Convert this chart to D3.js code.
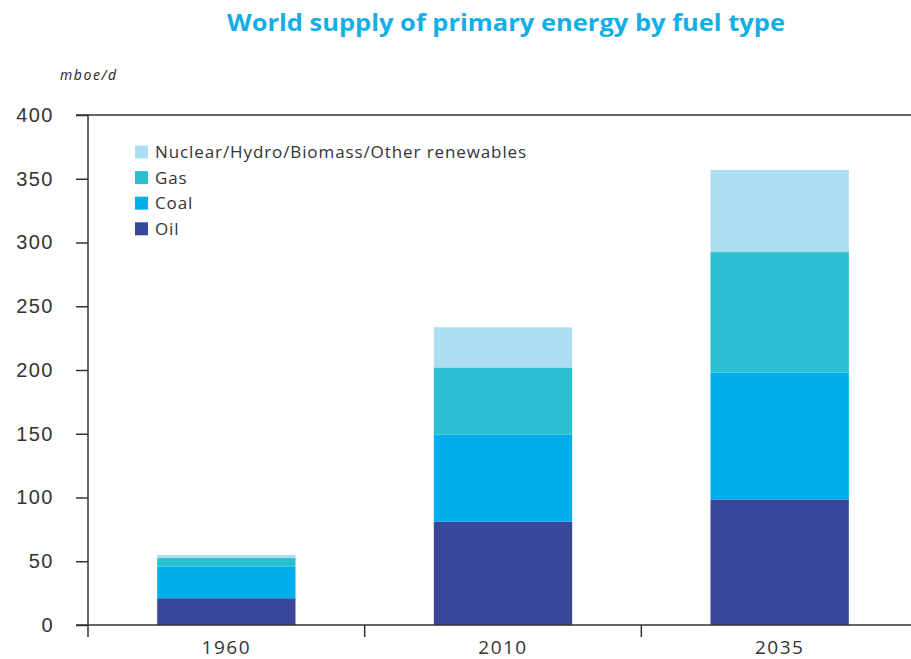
<!DOCTYPE html>
<html>
<head>
<meta charset="utf-8">
<script src="https://cdn.jsdelivr.net/npm/d3@7"></script>
<style>
  body { margin: 0; background: #fff; }
  svg { display: block; font-family: "Open Sans", "DejaVu Sans", sans-serif; }
</style>
</head>
<body>
<svg id="chart" width="911" height="659"></svg>
<script>
// --- dati ---
const years = ["1960", "2010", "2035"];
const oil = [21, 81, 98.5];
const coal = [25, 68.5, 99.5];
const gas = [6.5, 52.5, 94.5];
const other = [2.5, 31.5, 64.5];
const yTicks = [0, 50, 100, 150, 200, 250, 300, 350, 400];

const seriesNames = ["Oil", "Coal", "Gas", "Nuclear/Hydro/Biomass/Other renewables"];
const seriesColors = ["#38479a", "#00aeec", "#2bbfd3", "#abdef0"];

const rows = years.map((y, i) => ({
  year: y,
  "Oil": oil[i], "Coal": coal[i], "Gas": gas[i],
  "Nuclear/Hydro/Biomass/Other renewables": other[i]
}));

const svg = d3.select("#chart");
const mLeft = 88, mRight = 918, mTop = 115, mBottom = 625;

const x = d3.scaleBand().domain(years).range([mLeft, mRight]).paddingInner(0.5).paddingOuter(0.25);
const y = d3.scaleLinear().domain([0, 400]).range([mBottom, mTop]);

// titolo
svg.append("text")
  .attr("x", 506).attr("y", 31)
  .attr("text-anchor", "middle")
  .attr("fill", "#12aee6")
  .style("font-size", "23px").style("font-weight", "bold")
  .attr("textLength", 558).attr("lengthAdjust", "spacingAndGlyphs")
  .text("World supply of primary energy by fuel type");

// unità
svg.append("text")
  .attr("x", 60).attr("y", 80)
  .attr("fill", "#222")
  .style("font-size", "14px").style("font-style", "italic")
  .attr("textLength", 56)
  .text("mboe/d");

// barre impilate
const stacked = d3.stack().keys(seriesNames)(rows);
svg.append("g").selectAll("g")
  .data(stacked).enter().append("g")
  .attr("fill", (d, i) => seriesColors[i])
  .selectAll("rect")
  .data(d => d).enter().append("rect")
  .attr("x", d => x(d.data.year))
  .attr("width", x.bandwidth())
  .attr("y", d => y(d[1]))
  .attr("height", d => y(d[0]) - y(d[1]));

// asse Y
const yAxis = svg.append("g")
  .attr("transform", `translate(${mLeft},0)`)
  .call(d3.axisLeft(y).tickValues(yTicks).tickSize(12).tickPadding(22));
yAxis.select(".domain").remove();
yAxis.selectAll("line").attr("stroke", "#333").attr("stroke-width", 1.5);
yAxis.selectAll("text").attr("fill", "#333")
  .style("font-size", "20px").style("letter-spacing", "1.5px");

// linea verticale asse Y (scende sotto lo zero)
svg.append("line")
  .attr("x1", mLeft).attr("x2", mLeft)
  .attr("y1", mTop).attr("y2", mBottom + 12)
  .attr("stroke", "#333").attr("stroke-width", 1.5);

// linea superiore a 400
svg.append("line")
  .attr("x1", mLeft - 12).attr("x2", 911)
  .attr("y1", y(400)).attr("y2", y(400))
  .attr("stroke", "#333").attr("stroke-width", 1.5);

// asse X
svg.append("line")
  .attr("x1", mLeft - 12).attr("x2", 911)
  .attr("y1", mBottom).attr("y2", mBottom)
  .attr("stroke", "#333").attr("stroke-width", 1.5);

const step = x.step();
[1, 2].forEach(k => {
  svg.append("line")
    .attr("x1", mLeft + k * step).attr("x2", mLeft + k * step)
    .attr("y1", mBottom).attr("y2", mBottom + 12)
    .attr("stroke", "#333").attr("stroke-width", 1.5);
});

svg.append("g").selectAll("text")
  .data(years).enter().append("text")
  .attr("x", d => x(d) + x.bandwidth() / 2)
  .attr("y", 654)
  .attr("text-anchor", "middle")
  .attr("fill", "#333")
  .style("font-size", "19px").style("letter-spacing", "1.5px")
  .text(d => d);

// legenda
const legendOrder = [3, 2, 1, 0];
const legend = svg.append("g").selectAll("g")
  .data(legendOrder).enter().append("g")
  .attr("transform", (d, i) => `translate(135,${152 + i * 25.6})`);
legend.append("rect")
  .attr("x", 0).attr("y", -6.5).attr("width", 13).attr("height", 13)
  .attr("fill", d => seriesColors[d]);
legend.append("text")
  .attr("x", 20).attr("y", 6)
  .attr("fill", "#333")
  .style("font-size", "17px").style("letter-spacing", "0.9px")
  .text(d => seriesNames[d]);
</script>
</body>
</html>
